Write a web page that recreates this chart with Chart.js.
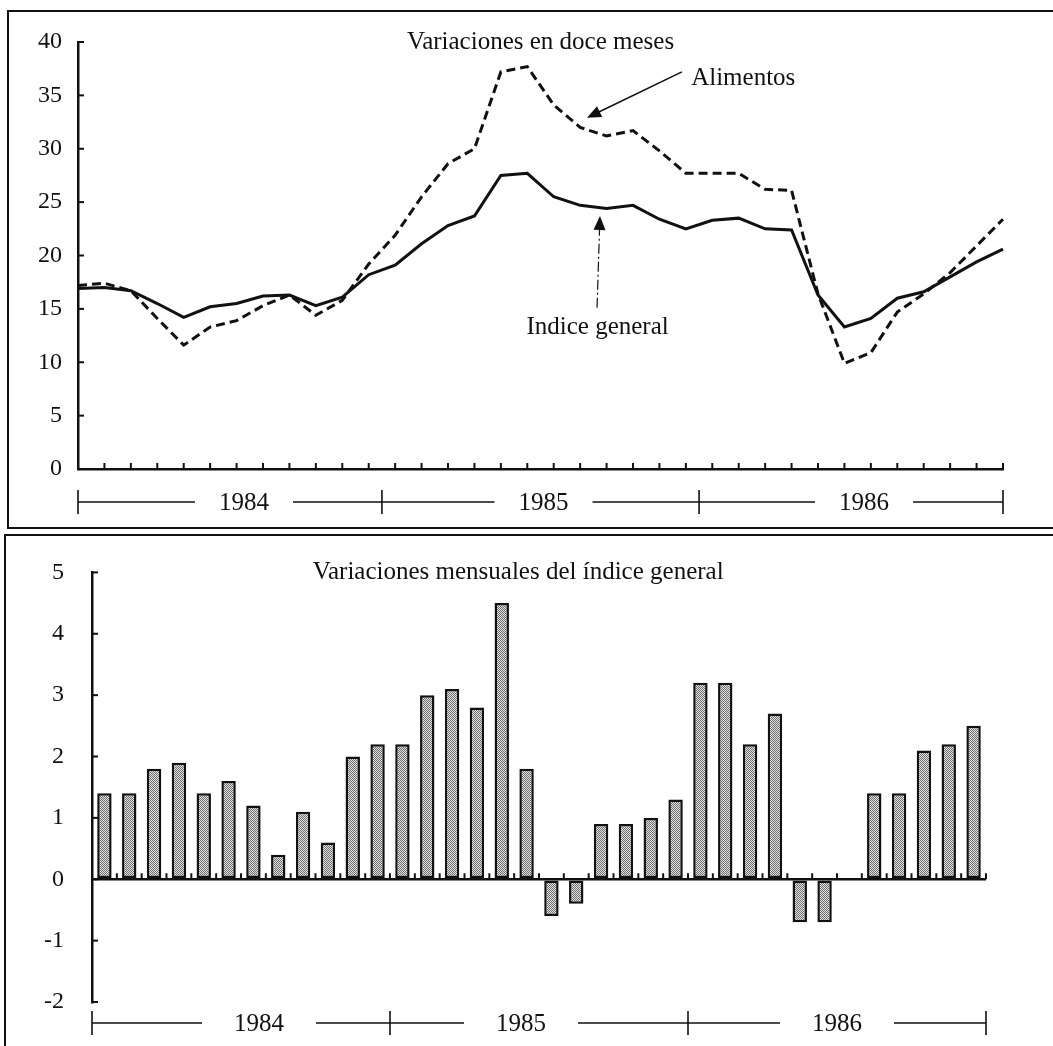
<!DOCTYPE html>
<html>
<head>
<meta charset="utf-8">
<script src="https://cdn.jsdelivr.net/npm/chart.js@4.4.1/dist/chart.umd.min.js"></script>
<style>
  html, body { margin: 0; padding: 0; background: #fff; width: 1053px; height: 1046px; overflow: hidden; }
  .panel { position: absolute; border: 2px solid #111; }
  #p1 { left: 7px; top: 10px; width: 1100px; height: 515px; }
  #p2 { left: 4px; top: 534px; width: 1100px; height: 600px; }
  canvas { position: absolute; left: 0; }
  #top { top: 0; }
  #bottom { top: 530px; }
</style>
</head>
<body>
<div class="panel" id="p1"></div>
<div class="panel" id="p2"></div>
<canvas id="top" width="1053" height="520"></canvas>
<canvas id="bottom" width="1053" height="516"></canvas>
<script>
// months Jan 1984 .. Dec 1986
const months = [
  "ene 1984","feb 1984","mar 1984","abr 1984","may 1984","jun 1984","jul 1984","ago 1984","sep 1984","oct 1984","nov 1984","dic 1984",
  "ene 1985","feb 1985","mar 1985","abr 1985","may 1985","jun 1985","jul 1985","ago 1985","sep 1985","oct 1985","nov 1985","dic 1985",
  "ene 1986","feb 1986","mar 1986","abr 1986","may 1986","jun 1986","jul 1986","ago 1986","sep 1986","oct 1986","nov 1986","dic 1986"
];
const years = ["1984", "1985", "1986"];

// twelve-month change (%)
const indiceGeneral = [16.9, 17.0, 16.7, 15.5, 14.2, 15.2, 15.5, 16.2, 16.3, 15.3, 16.1, 18.2,
                       19.1, 21.1, 22.8, 23.7, 27.5, 27.7, 25.5, 24.7, 24.4, 24.7, 23.4, 22.5,
                       23.3, 23.5, 22.5, 22.4, 16.3, 13.3, 14.1, 16.0, 16.6, 18.0, 19.4, 20.6];
const alimentos = [17.2, 17.4, 16.7, 14.1, 11.6, 13.3, 13.9, 15.3, 16.3, 14.4, 15.8, 19.2,
                   21.9, 25.5, 28.6, 30.0, 37.2, 37.7, 34.1, 32.0, 31.2, 31.7, 29.8, 27.7,
                   27.7, 27.7, 26.2, 26.1, 16.4, 9.9, 10.9, 14.7, 16.4, 18.4, 20.9, 23.4];

// monthly change of the general index (%)
const mensual = [1.4, 1.4, 1.8, 1.9, 1.4, 1.6, 1.2, 0.4, 1.1, 0.6, 2.0, 2.2,
                 2.2, 3.0, 3.1, 2.8, 4.5, 1.8, -0.6, -0.4, 0.9, 0.9, 1.0, 1.3,
                 3.2, 3.2, 2.2, 2.7, -0.7, -0.7, 0, 1.4, 1.4, 2.1, 2.2, 2.5];

const INK = "#111";
const SERIF = "'Liberation Serif', 'DejaVu Serif', serif";

// stippled fill like the printed bars
function stipple() {
  const c = document.createElement("canvas");
  c.width = 2; c.height = 2;
  const g = c.getContext("2d");
  g.fillStyle = "#e2e2e2"; g.fillRect(0, 0, 2, 2);
  g.fillStyle = "#6e6e6e"; g.fillRect(0, 0, 1, 1); g.fillRect(1, 1, 1, 1);
  return g.createPattern(c, "repeat");
}

function arrowHead(ctx, x1, y1, x2, y2, len, half) {
  const a = Math.atan2(y2 - y1, x2 - x1);
  ctx.beginPath();
  ctx.moveTo(x2, y2);
  ctx.lineTo(x2 - len * Math.cos(a) + half * Math.sin(a), y2 - len * Math.sin(a) - half * Math.cos(a));
  ctx.lineTo(x2 - len * Math.cos(a) - half * Math.sin(a), y2 - len * Math.sin(a) + half * Math.cos(a));
  ctx.closePath();
  ctx.fill();
}

// inward ticks, year brackets, titles and arrows
const decor = {
  id: "decor",
  afterDraw(chart, args, o) {
    const ctx = chart.ctx, xs = chart.scales.x, ys = chart.scales.y, area = chart.chartArea;
    ctx.save();
    ctx.strokeStyle = INK; ctx.fillStyle = INK;

    // y ticks pointing right
    ctx.lineWidth = 2;
    ys.ticks.forEach(t => {
      const y = ys.getPixelForValue(t.value);
      ctx.beginPath(); ctx.moveTo(area.left, y); ctx.lineTo(area.left + 6, y); ctx.stroke();
    });

    // x ticks pointing up from the base line
    const baseY = ys.getPixelForValue(o.baseValue);
    for (let i = 0; i <= months.length; i++) {
      const v = o.slotTicks ? i - 0.5 : i;
      if (!o.slotTicks && i === months.length) break;
      const x = xs.getPixelForValue(v);
      ctx.beginPath(); ctx.moveTo(x, baseY); ctx.lineTo(x, baseY - 6); ctx.stroke();
    }

    // year brackets
    ctx.font = "25px " + SERIF;
    ctx.textAlign = "center"; ctx.textBaseline = "middle";
    ctx.lineWidth = 1.6;
    const by = o.bracketY;
    const bx = o.bounds.map(v => xs.getPixelForValue(v));
    years.forEach((yr, k) => {
      const x0 = bx[k], x1 = bx[k + 1];
      const cx = (x0 + x1) / 2 + o.labelShift[k];
      const w = ctx.measureText(yr).width;
      ctx.beginPath();
      ctx.moveTo(x0, by); ctx.lineTo(cx - w / 2 - o.gap, by);
      ctx.moveTo(cx + w / 2 + o.gap, by); ctx.lineTo(x1, by);
      ctx.stroke();
      ctx.fillText(yr, cx, by + 1);
    });
    bx.forEach(x => {
      ctx.beginPath(); ctx.moveTo(x, by - 12); ctx.lineTo(x, by + 12); ctx.stroke();
    });

    // texts anchored in data space
    (o.texts || []).forEach(t => {
      ctx.font = t.size + "px " + SERIF;
      ctx.textAlign = t.align || "center";
      const x = t.atCenter ? (area.left + area.right) / 2 : xs.getPixelForValue(t.x);
      ctx.fillText(t.text, x, ys.getPixelForValue(t.y));
    });

    // arrows
    (o.arrows || []).forEach(a => {
      const x1 = xs.getPixelForValue(a.from[0]), y1 = ys.getPixelForValue(a.from[1]);
      const x2 = xs.getPixelForValue(a.to[0]), y2 = ys.getPixelForValue(a.to[1]);
      ctx.lineWidth = a.width;
      ctx.setLineDash(a.dash || []);
      const ang = Math.atan2(y2 - y1, x2 - x1);
      ctx.beginPath(); ctx.moveTo(x1, y1);
      ctx.lineTo(x2 - 12 * Math.cos(ang), y2 - 12 * Math.sin(ang)); ctx.stroke();
      ctx.setLineDash([]);
      arrowHead(ctx, x1, y1, x2, y2, 14, 6);
    });
    ctx.restore();
  }
};

const tickFont = { family: SERIF, size: 24 };

new Chart(document.getElementById("top"), {
  type: "line",
  data: {
    labels: months,
    datasets: [
      { label: "Indice general", data: indiceGeneral, borderColor: INK, borderWidth: 3,
        pointRadius: 0, tension: 0, fill: false },
      { label: "Alimentos", data: alimentos, borderColor: INK, borderWidth: 3,
        borderDash: [9, 5], pointRadius: 0, tension: 0, fill: false }
    ]
  },
  options: {
    responsive: false,
    animation: false,
    layout: { padding: { top: 42, right: 50, left: 0, bottom: 0 } },
    plugins: {
      legend: { display: false },
      tooltip: { enabled: false },
      decor: {
        baseValue: 0,
        slotTicks: false,
        bracketY: 502,
        bounds: [0, 11.5, 23.5, 35],
        labelShift: [14, 3, 13],
        gap: 24,
        texts: [
          { text: "Variaciones en doce meses", atCenter: true, y: 40, size: 25 },
          { text: "Alimentos", x: 23.2, y: 36.6, size: 25, align: "left" },
          { text: "Indice general", x: 19.66, y: 13.3, size: 25 }
        ],
        arrows: [
          { from: [22.85, 37.2], to: [19.26, 32.9], width: 1.6 },
          { from: [19.64, 15.1], to: [19.75, 23.7], width: 1.2, dash: [10, 3, 2, 3] }
        ]
      }
    },
    scales: {
      x: {
        type: "category",
        offset: false,
        grid: { display: false, drawTicks: false },
        border: { display: true, color: INK, width: 2.5 },
        ticks: { display: false },
        afterFit: s => { s.height = 51; }
      },
      y: {
        min: 0, max: 40,
        grid: { display: false, drawTicks: false },
        border: { display: true, color: INK, width: 2.5 },
        ticks: { stepSize: 5, color: INK, font: tickFont, padding: 16 },
        afterFit: s => { s.width = 78; }
      }
    }
  },
  plugins: [decor]
});

new Chart(document.getElementById("bottom"), {
  type: "bar",
  data: {
    labels: months,
    datasets: [
      { label: "Variaciones mensuales del índice general", data: mensual,
        backgroundColor: stipple(), borderColor: INK, borderWidth: 2.5,
        borderSkipped: false, categoryPercentage: 1, barPercentage: 0.58 }
    ]
  },
  options: {
    responsive: false,
    animation: false,
    layout: { padding: { top: 35, right: 67, left: 0, bottom: 0 } },
    plugins: {
      legend: { display: false },
      tooltip: { enabled: false },
      decor: {
        baseValue: 0,
        slotTicks: true,
        bracketY: 493,
        bounds: [-0.5, 11.5, 23.5, 35.5],
        labelShift: [18, -18, 0],
        gap: 32,
        texts: [
          { text: "Variaciones mensuales del índice general", x: 16.66, y: 5, size: 25 }
        ]
      }
    },
    scales: {
      x: {
        grid: { display: false, drawTicks: false },
        border: { display: false },
        ticks: { display: false },
        afterFit: s => { s.height = 44; }
      },
      y: {
        min: -2, max: 5,
        grid: {
          drawTicks: false,
          color: c => (c.tick && c.tick.value === 0 ? INK : "rgba(0,0,0,0)"),
          lineWidth: 2.5
        },
        border: { display: true, color: INK, width: 2.5 },
        ticks: { stepSize: 1, color: INK, font: tickFont, padding: 28 },
        afterFit: s => { s.width = 92; }
      }
    }
  },
  plugins: [decor]
});
</script>
</body>
</html>
